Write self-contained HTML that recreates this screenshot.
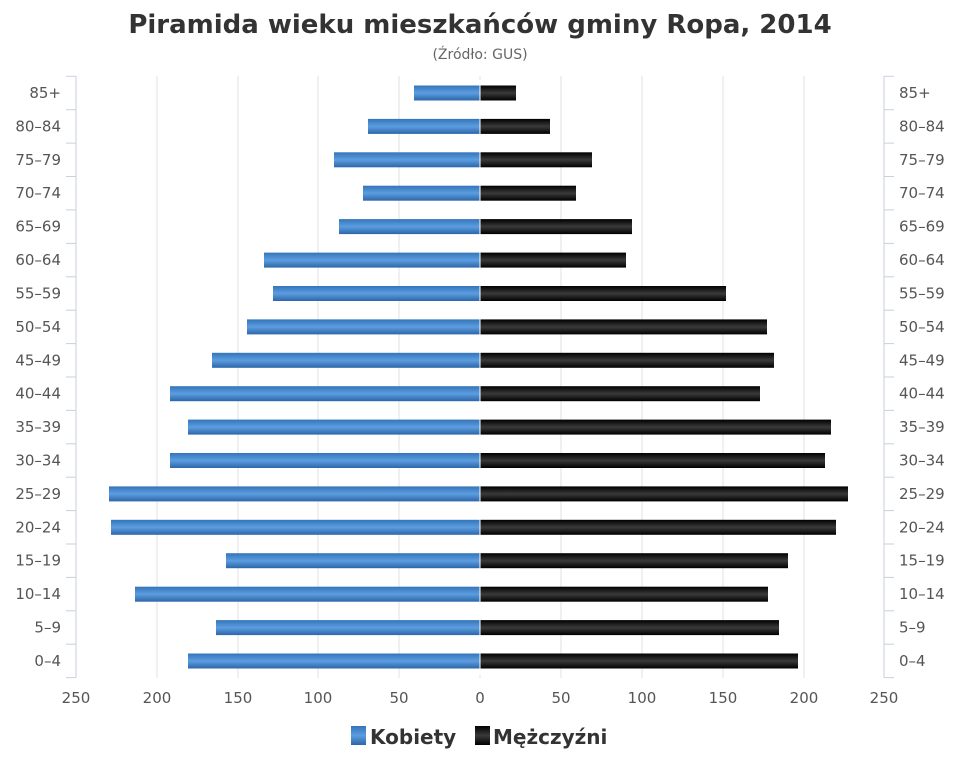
<!DOCTYPE html>
<html><head><meta charset="utf-8"><style>
body{margin:0;background:#fff;}
text{font-family:"DejaVu Sans","Liberation Sans",sans-serif;}
</style></head><body>
<svg width="960" height="768" xmlns="http://www.w3.org/2000/svg">
<defs>
<linearGradient id="b" x1="0" y1="0" x2="0" y2="1"><stop offset="0" stop-color="#3474b8"/><stop offset="0.5" stop-color="#5c9de0"/><stop offset="1" stop-color="#2c66a8"/></linearGradient>
<linearGradient id="k" x1="0" y1="0" x2="0" y2="1"><stop offset="0" stop-color="#000"/><stop offset="0.5" stop-color="#3a3a3a"/><stop offset="1" stop-color="#000"/></linearGradient>
</defs>
<text x="480" y="33" text-anchor="middle" font-size="26" font-weight="bold" fill="#333">Piramida wieku mieszkańców gminy Ropa, 2014</text>
<text x="480" y="59" text-anchor="middle" font-size="14" fill="#666">(Źródło: GUS)</text>
<g stroke="#e0e0e0" stroke-width="1">
<line x1="157" y1="76" x2="157" y2="678"/><line x1="238" y1="76" x2="238" y2="678"/><line x1="318" y1="76" x2="318" y2="678"/><line x1="399" y1="76" x2="399" y2="678"/><line x1="480" y1="76" x2="480" y2="678"/><line x1="561" y1="76" x2="561" y2="678"/><line x1="642" y1="76" x2="642" y2="678"/><line x1="723" y1="76" x2="723" y2="678"/><line x1="804" y1="76" x2="804" y2="678"/>
</g>
<g stroke="#c8d0dc" stroke-width="1">
<line x1="76" y1="76" x2="76" y2="678"/><line x1="884" y1="76" x2="884" y2="678"/>
<line x1="66" y1="76.3" x2="76" y2="76.3"/><line x1="66" y1="109.7" x2="76" y2="109.7"/><line x1="66" y1="143.1" x2="76" y2="143.1"/><line x1="66" y1="176.5" x2="76" y2="176.5"/><line x1="66" y1="209.9" x2="76" y2="209.9"/><line x1="66" y1="243.4" x2="76" y2="243.4"/><line x1="66" y1="276.8" x2="76" y2="276.8"/><line x1="66" y1="310.2" x2="76" y2="310.2"/><line x1="66" y1="343.6" x2="76" y2="343.6"/><line x1="66" y1="377" x2="76" y2="377"/><line x1="66" y1="410.4" x2="76" y2="410.4"/><line x1="66" y1="443.8" x2="76" y2="443.8"/><line x1="66" y1="477.2" x2="76" y2="477.2"/><line x1="66" y1="510.6" x2="76" y2="510.6"/><line x1="66" y1="544" x2="76" y2="544"/><line x1="66" y1="577.4" x2="76" y2="577.4"/><line x1="66" y1="610.8" x2="76" y2="610.8"/><line x1="66" y1="644.2" x2="76" y2="644.2"/><line x1="66" y1="677.6" x2="76" y2="677.6"/>
<line x1="884" y1="76.3" x2="894" y2="76.3"/><line x1="884" y1="109.7" x2="894" y2="109.7"/><line x1="884" y1="143.1" x2="894" y2="143.1"/><line x1="884" y1="176.5" x2="894" y2="176.5"/><line x1="884" y1="209.9" x2="894" y2="209.9"/><line x1="884" y1="243.4" x2="894" y2="243.4"/><line x1="884" y1="276.8" x2="894" y2="276.8"/><line x1="884" y1="310.2" x2="894" y2="310.2"/><line x1="884" y1="343.6" x2="894" y2="343.6"/><line x1="884" y1="377" x2="894" y2="377"/><line x1="884" y1="410.4" x2="894" y2="410.4"/><line x1="884" y1="443.8" x2="894" y2="443.8"/><line x1="884" y1="477.2" x2="894" y2="477.2"/><line x1="884" y1="510.6" x2="894" y2="510.6"/><line x1="884" y1="544" x2="894" y2="544"/><line x1="884" y1="577.4" x2="894" y2="577.4"/><line x1="884" y1="610.8" x2="894" y2="610.8"/><line x1="884" y1="644.2" x2="894" y2="644.2"/><line x1="884" y1="677.6" x2="894" y2="677.6"/>
</g>
<g fill="url(#b)">
<rect x="414" y="85.5" width="66" height="15"/><rect x="368" y="118.9" width="112" height="15"/><rect x="334" y="152.3" width="146" height="15"/><rect x="363" y="185.7" width="117" height="15"/><rect x="339" y="219.1" width="141" height="15"/><rect x="264" y="252.6" width="216" height="15"/><rect x="273" y="286" width="207" height="15"/><rect x="247" y="319.4" width="233" height="15"/><rect x="212" y="352.8" width="268" height="15"/><rect x="170" y="386.2" width="310" height="15"/><rect x="188" y="419.6" width="292" height="15"/><rect x="170" y="453" width="310" height="15"/><rect x="109" y="486.4" width="371" height="15"/><rect x="111" y="519.8" width="369" height="15"/><rect x="226" y="553.2" width="254" height="15"/><rect x="135" y="586.7" width="345" height="15"/><rect x="216" y="620.1" width="264" height="15"/><rect x="188" y="653.5" width="292" height="15"/>
</g>
<g fill="url(#k)">
<rect x="480" y="85.5" width="36" height="15"/><rect x="480" y="118.9" width="70" height="15"/><rect x="480" y="152.3" width="112" height="15"/><rect x="480" y="185.7" width="96" height="15"/><rect x="480" y="219.1" width="152" height="15"/><rect x="480" y="252.6" width="146" height="15"/><rect x="480" y="286" width="246" height="15"/><rect x="480" y="319.4" width="287" height="15"/><rect x="480" y="352.8" width="294" height="15"/><rect x="480" y="386.2" width="280" height="15"/><rect x="480" y="419.6" width="351" height="15"/><rect x="480" y="453" width="345" height="15"/><rect x="480" y="486.4" width="368" height="15"/><rect x="480" y="519.8" width="356" height="15"/><rect x="480" y="553.2" width="308" height="15"/><rect x="480" y="586.7" width="288" height="15"/><rect x="480" y="620.1" width="299" height="15"/><rect x="480" y="653.5" width="318" height="15"/>
</g>
<line x1="480" y1="80" x2="480" y2="675" stroke="#fff" stroke-width="1"/>
<g font-size="15" fill="#555" text-anchor="end">
<text x="61" y="98">85+</text><text x="61" y="131.4">80–84</text><text x="61" y="164.8">75–79</text><text x="61" y="198.2">70–74</text><text x="61" y="231.6">65–69</text><text x="61" y="265.1">60–64</text><text x="61" y="298.5">55–59</text><text x="61" y="331.9">50–54</text><text x="61" y="365.3">45–49</text><text x="61" y="398.7">40–44</text><text x="61" y="432.1">35–39</text><text x="61" y="465.5">30–34</text><text x="61" y="498.9">25–29</text><text x="61" y="532.3">20–24</text><text x="61" y="565.7">15–19</text><text x="61" y="599.2">10–14</text><text x="61" y="632.6">5–9</text><text x="61" y="666">0–4</text>
</g>
<g font-size="15" fill="#555">
<text x="899" y="98">85+</text><text x="899" y="131.4">80–84</text><text x="899" y="164.8">75–79</text><text x="899" y="198.2">70–74</text><text x="899" y="231.6">65–69</text><text x="899" y="265.1">60–64</text><text x="899" y="298.5">55–59</text><text x="899" y="331.9">50–54</text><text x="899" y="365.3">45–49</text><text x="899" y="398.7">40–44</text><text x="899" y="432.1">35–39</text><text x="899" y="465.5">30–34</text><text x="899" y="498.9">25–29</text><text x="899" y="532.3">20–24</text><text x="899" y="565.7">15–19</text><text x="899" y="599.2">10–14</text><text x="899" y="632.6">5–9</text><text x="899" y="666">0–4</text>
</g>
<g font-size="15" fill="#555" text-anchor="middle">
<text x="76" y="703">250</text><text x="157" y="703">200</text><text x="238" y="703">150</text><text x="318" y="703">100</text><text x="399" y="703">50</text><text x="480" y="703">0</text><text x="561" y="703">50</text><text x="642" y="703">100</text><text x="723" y="703">150</text><text x="804" y="703">200</text><text x="884" y="703">250</text>
</g>
<rect x="351" y="726" width="15" height="19" fill="url(#b)"/>
<text x="370" y="744" font-size="20" font-weight="bold" fill="#333">Kobiety</text>
<rect x="475" y="726" width="15" height="19" fill="url(#k)"/>
<text x="493" y="744" font-size="20" font-weight="bold" fill="#333">Mężczyźni</text>
</svg>
</body></html>
